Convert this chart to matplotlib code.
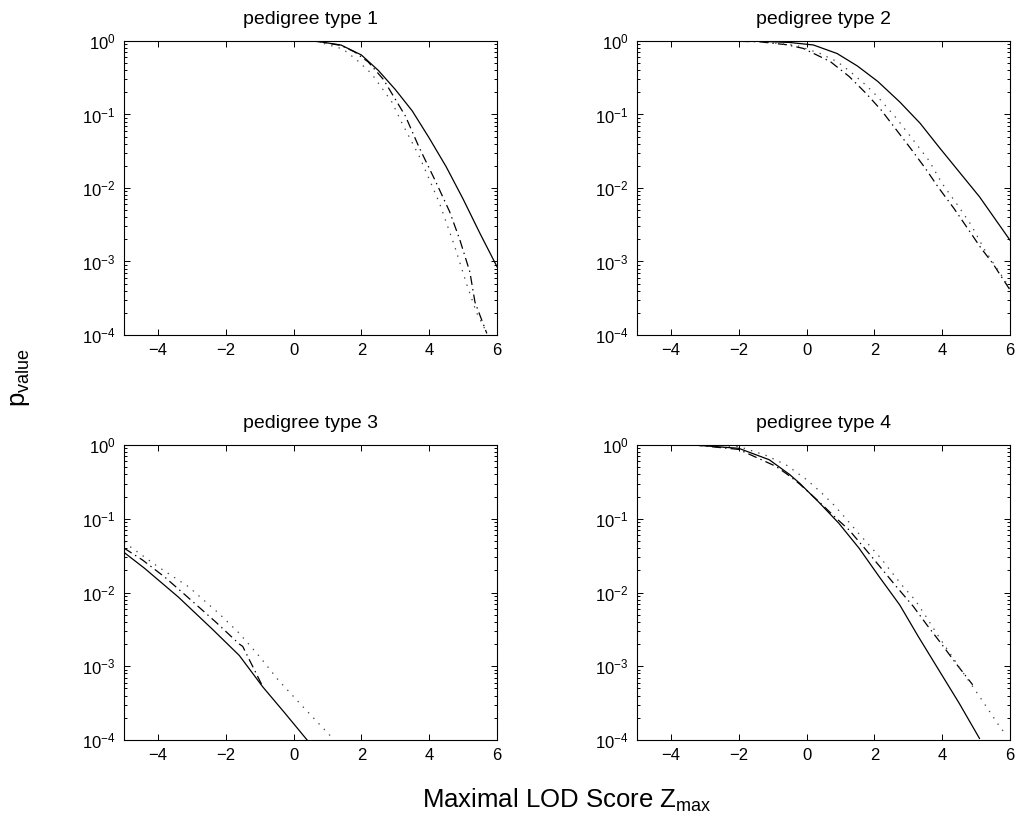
import matplotlib
matplotlib.use("Agg")
import matplotlib.pyplot as plt
from matplotlib.ticker import LogLocator, NullFormatter, MultipleLocator

plt.rcParams['font.family'] = ['Liberation Sans', 'DejaVu Sans']
plt.rcParams['mathtext.fontset'] = 'custom'
plt.rcParams['mathtext.rm'] = 'Liberation Sans'
plt.rcParams['mathtext.it'] = 'Liberation Sans'
plt.rcParams['lines.scale_dashes'] = False

titles = ["pedigree type 1", "pedigree type 2", "pedigree type 3", "pedigree type 4"]

# pedigree type 1
z1_solid = [0.0, 0.7, 1.4, 2.0, 2.5, 3.0, 3.5, 4.0, 4.5, 5.0, 5.5, 6.0]
p1_solid = [1.0, 0.989, 0.881, 0.646, 0.398, 0.219, 0.112, 0.0479, 0.0195, 0.00708,
            0.0024, 0.00085]
z1_dash = [0.0, 0.7, 1.4, 1.8, 2.2, 2.65, 3.3, 3.7, 4.2, 4.6, 4.9, 5.2, 5.35, 5.7]
p1_dash = [1.0, 0.99, 0.87, 0.71, 0.52, 0.30, 0.095, 0.036, 0.012, 0.0048, 0.002,
           0.00072, 0.00028, 0.000105]
z1_dot = [0.0, 0.7, 1.45, 1.85, 2.3, 2.9, 3.2, 3.7, 4.0, 4.3, 4.75, 5.1, 5.4, 5.7]
p1_dot = [1.0, 0.98, 0.78, 0.56, 0.36, 0.148, 0.076, 0.0275, 0.0132, 0.0063, 0.00162,
          0.0005, 0.0002, 0.000107]

# pedigree type 2
z2_solid = [-2.5, -1.4, -0.5, 0.2, 0.9, 1.5, 2.1, 2.75, 3.35, 3.9, 4.5, 5.1, 6.0]
p2_solid = [1.0, 0.993, 0.955, 0.883, 0.676, 0.457, 0.282, 0.148, 0.0759, 0.0363,
            0.0166, 0.0076, 0.00195]
z2_dash = [-2.5, -1.4, -0.6, -0.1, 0.7, 1.25, 1.75, 2.2, 2.65, 3.1, 3.5, 3.9, 4.35,
           4.75, 5.15, 5.5, 6.0]
p2_dash = [1.0, 0.977, 0.891, 0.794, 0.525, 0.331, 0.195, 0.115, 0.0617, 0.0331,
           0.0186, 0.01, 0.00525, 0.00282, 0.00151, 0.00093, 0.00041]
z2_dot = [-2.5, -1.4, -0.3, 0.4, 0.9, 1.3, 1.75, 2.1, 2.65, 3.15, 3.6, 4.0, 4.45,
          4.85, 5.25, 5.65, 6.0]
p2_dot = [1.0, 0.989, 0.871, 0.676, 0.525, 0.380, 0.251, 0.174, 0.0891, 0.0447,
          0.024, 0.0115, 0.0059, 0.00316, 0.00145, 0.00076, 0.00043]

# pedigree type 3
z3_solid = [-5.0, -4.4, -3.4, -2.4, -1.6, -0.9, -0.25, 0.4]
p3_solid = [0.035, 0.0214, 0.0087, 0.0032, 0.0014, 0.00052, 0.00023, 0.0001]
z3_dash = [-5.0, -4.45, -3.8, -3.2, -2.3, -1.6, -1.5, -0.9]
p3_dash = [0.04, 0.0275, 0.0162, 0.0093, 0.004, 0.002, 0.00186, 0.00052]
z3_dot = [-5.0, -4.0, -3.1, -2.2, -1.6, -1.0, -0.45, 0.35, 1.1]
p3_dot = [0.048, 0.0224, 0.012, 0.0052, 0.0028, 0.00135, 0.00065, 0.00026, 0.000112]

# pedigree type 4
z4_solid = [-5.0, -3.2, -2.0, -1.1, -0.5, -0.2, 0.35, 0.95, 1.55, 2.15, 2.75, 3.3,
            3.9, 4.5, 5.1]
p4_solid = [1.0, 0.989, 0.902, 0.631, 0.398, 0.302, 0.170, 0.0871, 0.0398, 0.0162,
            0.00676, 0.00251, 0.00089, 0.000316, 0.000105]
z4_dash = [-5.0, -3.2, -2.0, -0.9, -0.5, -0.2, 0.37, 0.87, 1.25, 1.75, 2.2, 2.65,
           3.15, 3.55, 4.0, 4.4, 4.9]
p4_dash = [1.0, 0.989, 0.871, 0.513, 0.380, 0.295, 0.170, 0.102, 0.0708, 0.038,
           0.0214, 0.012, 0.00646, 0.00363, 0.00195, 0.0011, 0.00056]
z4_dot = [-5.0, -3.2, -2.0, -1.2, -0.6, 0.0, 0.4, 0.8, 1.15, 1.5, 1.85, 2.2, 2.5,
          2.85, 3.2, 3.5, 3.9, 4.5, 5.1, 5.7, 5.85]
p4_dot = [1.0, 0.993, 0.955, 0.724, 0.537, 0.339, 0.234, 0.155, 0.102, 0.0661,
          0.0437, 0.0288, 0.0191, 0.012, 0.00794, 0.0049, 0.00251, 0.00098, 0.00039,
          0.000151, 0.000123]

curves = [
    [(z1_solid, p1_solid), (z1_dash, p1_dash), (z1_dot, p1_dot)],
    [(z2_solid, p2_solid), (z2_dash, p2_dash), (z2_dot, p2_dot)],
    [(z3_solid, p3_solid), (z3_dash, p3_dash), (z3_dot, p3_dot)],
    [(z4_solid, p4_solid), (z4_dash, p4_dash), (z4_dot, p4_dot)],
]
styles = [dict(linestyle='-', color='black'),
          dict(linestyle=(0, (6.5, 3, 1, 3)), color='black'),
          dict(linestyle=(0, (1, 4.5)), color='#444444')]

fig = plt.figure(figsize=(10.18, 8.35), dpi=100)
W, H = 1018, 835
# axes boxes in pixels: left, top, width, height
boxes = [(124, 41, 373, 294), (637, 41, 373, 294),
         (124, 445, 373, 295), (637, 445, 373, 295)]

for i, (l, t, w, h) in enumerate(boxes):
    ax = fig.add_axes((l / W, 1 - (t + h) / H, w / W, h / H))
    for (z, p), st in zip(curves[i], styles):
        ax.plot(z, p, lw=0.9, **st)
    ax.set_yscale('log')
    ax.set_xlim(-5, 6)
    ax.set_ylim(1e-4, 1)
    ax.xaxis.set_major_locator(MultipleLocator(2))
    ax.yaxis.set_major_locator(LogLocator(base=10, numticks=10))
    ax.yaxis.set_minor_locator(LogLocator(base=10, subs=range(2, 10), numticks=10))
    ax.yaxis.set_minor_formatter(NullFormatter())
    ax.tick_params(which='both', direction='in', top=True, right=True,
                   labelsize=12, width=0.7)
    ax.tick_params(which='major', length=4, pad=6)
    ax.tick_params(which='minor', length=2)
    for s in ax.spines.values():
        s.set_linewidth(0.8)
    ax.set_title(titles[i], fontsize=14, pad=12)

fig.text(567 / W, 1 - 808 / H, 'Maximal LOD Score $\\mathregular{Z_{max}}$',
         ha='center', va='baseline', fontsize=18.5)
fig.text(20 / W, 1 - 378 / H, '$\\mathregular{p_{value}}$', rotation=90,
         ha='center', va='center', fontsize=18.5)

fig.savefig('out.png', dpi=100)
